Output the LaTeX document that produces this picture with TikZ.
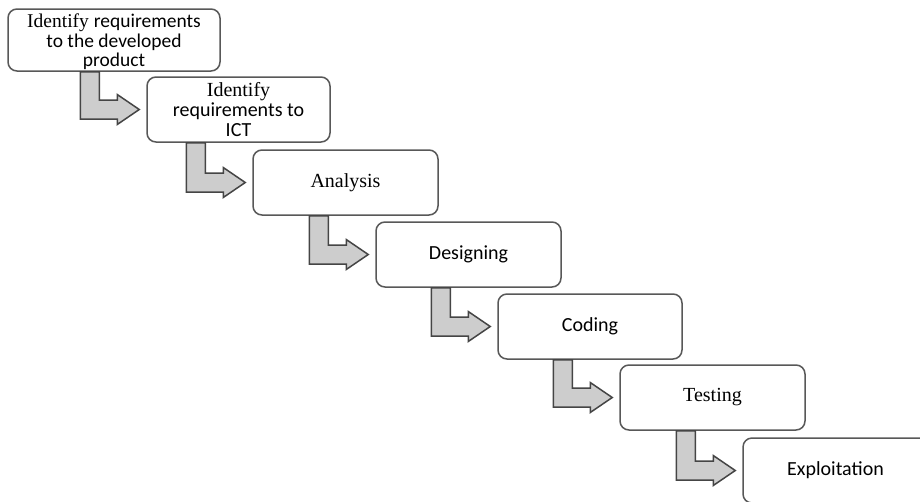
\documentclass[tikz,border=0pt]{standalone}
\usepackage{fontspec}
\setmainfont{Liberation Serif}
\newfontfamily\sansf{Carlito}
\usetikzlibrary{calc}
\definecolor{boxline}{HTML}{585858}
\definecolor{arrfill}{HTML}{CDCDCD}
\definecolor{arrline}{HTML}{454545}
\tikzset{
  stage/.style={draw=boxline, line width=1.5pt, rounded corners=9pt, fill=white,
    align=center, inner sep=0pt, font=\fontsize{20}{20}\selectfont},
  larrow/.style={draw=arrline, fill=arrfill, line width=1.5pt, line join=miter},
}
\newcommand\steparrow[2]{%
  \path[larrow] let \p1=(#1.south), \p2=(#2.west) in
    (\x2-66pt,\y1) -- (\x2-47pt,\y1) -- (\x2-47pt,\y2+9.5pt) -- (\x2-29pt,\y2+9.5pt)
    -- (\x2-29pt,\y2+15pt) -- (\x2-7pt,\y2) -- (\x2-29pt,\y2-15pt) -- (\x2-29pt,\y2-9.5pt)
    -- (\x2-66pt,\y2-9.5pt) -- cycle;}
\begin{document}
\begin{tikzpicture}[x=1pt,y=-1pt]
\useasboundingbox (0,0) rectangle (920,501);
\clip (0,0) rectangle (920,501);
\fill[white] (0,0) rectangle (920,501);
\node[stage, minimum width=212pt, minimum height=62pt] (s1) at (114,40) {};
\node[align=center, inner sep=0pt, font=\fontsize{19.5}{19.5}\selectfont] (t1) at (114,42)
  {Identify {\sansf requirements}\\{\sansf to the developed}\\{\sansf product}};
\node[stage, minimum width=183pt, minimum height=65pt] (s2) at (238.5,109.5)
  {Identify\\{\sansf requirements to}\\{\sansf ICT}};
\node[stage, minimum width=185pt, minimum height=65pt] (s3) at (345.5,182.5) {Analysis};
\node[stage, minimum width=185pt, minimum height=65pt] (s4) at (468.5,254.5) {\sansf Designing};
\node[stage, minimum width=184pt, minimum height=65pt] (s5) at (590,326.5) {\sansf Coding};
\node[stage, minimum width=185pt, minimum height=65pt] (s6) at (712.5,397.5) {Testing};
\node[stage, minimum width=185pt, minimum height=65pt] (s7) at (835.5,470.5) {\sansf Exploitation};
\steparrow{s1}{s2}
\steparrow{s2}{s3}
\steparrow{s3}{s4}
\steparrow{s4}{s5}
\steparrow{s5}{s6}
\steparrow{s6}{s7}
\end{tikzpicture}
\end{document}
